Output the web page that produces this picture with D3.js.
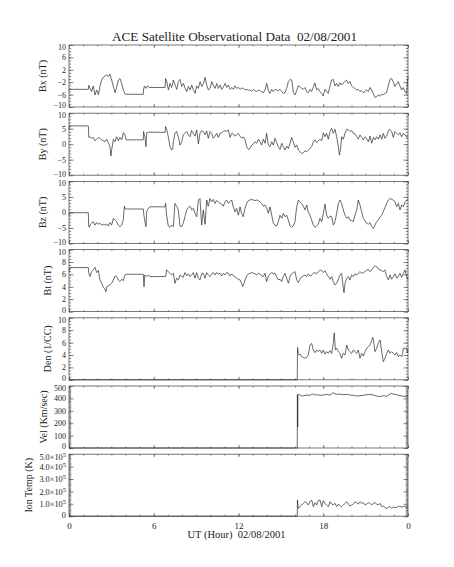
<!DOCTYPE html>
<html lang="en">
<head>
<meta charset="UTF-8">
<title>ACE Satellite Observational Data</title>
<script src="https://d3js.org/d3.v7.min.js"></script>
<style>
  body { margin: 0; background: #fff; }
  text { font-family: "Liberation Serif", "DejaVu Serif", serif; fill: #222; }
</style>
</head>
<body>
<script>
// hours of the day (UT) and their labels
const hourTicks = [0, 6, 12, 18, 24];
const hourLabels = ["0", "6", "12", "18", "0"];

// [hour, value]
const bx = [[0,-4.8],[0.05,-4.3],[1.37,-4.3],[1.40,-3.0],[1.49,-4.0],[1.60,-5.0],[1.72,-3.2],[1.84,-6.1],[1.96,-4.5],[2.08,-6.0],[2.19,-3.4],[2.31,-1.3],[2.43,-0.4],[2.55,0.0],[2.67,0.4],[2.78,-0.2],[2.90,0.6],[3.02,-1.3],[3.14,-3.4],[3.26,-5.4],[3.37,-3.7],[3.49,-1.3],[3.61,-0.8],[3.73,-2.4],[3.85,-4.5],[3.96,-5.8],[4.03,-5.9],[5.26,-5.9],[5.27,-4.5],[5.34,-3.2],[5.46,-4.0],[5.57,-3.2],[5.69,-3.7],[6.80,-3.7],[6.84,-0.8],[6.92,-1.8],[7.04,-4.5],[7.15,-2.4],[7.27,-3.7],[7.39,-1.3],[7.51,-2.9],[7.63,-4.3],[7.74,-1.8],[7.86,-1.1],[7.98,-3.4],[8.10,-2.4],[8.22,-4.0],[8.33,-5.0],[8.45,-3.4],[8.57,-4.5],[8.69,-2.9],[8.81,-4.5],[8.93,-5.6],[9.04,-3.2],[9.16,-4.0],[9.28,-1.8],[9.40,-3.4],[9.52,-2.4],[9.63,-0.4],[9.75,-2.9],[9.87,-4.5],[9.99,-4.0],[10.11,-1.8],[10.23,-3.2],[10.34,-4.0],[10.46,-2.4],[10.58,-4.0],[10.70,-2.9],[10.82,-4.3],[10.94,-3.4],[11.05,-2.4],[11.17,-3.7],[11.29,-2.9],[11.41,-4.3],[11.52,-3.7],[11.64,-4.3],[11.76,-3.2],[11.88,-4.0],[12.00,-3.7],[12.11,-4.3],[12.23,-3.9],[12.35,-4.0],[12.47,-4.5],[12.59,-4.3],[12.70,-4.6],[12.82,-4.5],[12.94,-4.9],[13.06,-4.3],[13.17,-4.8],[13.29,-5.0],[13.41,-4.6],[13.53,-4.7],[13.64,-5.2],[13.76,-5.4],[13.88,-4.5],[14.00,-2.4],[14.12,-4.7],[14.23,-5.6],[14.35,-4.3],[14.47,-5.0],[14.59,-4.3],[14.70,-4.5],[14.82,-4.8],[14.94,-4.3],[15.06,-5.0],[15.17,-5.6],[15.29,-5.4],[15.41,-4.0],[15.53,-1.8],[15.65,-1.1],[15.76,-1.3],[15.83,-3.2],[15.88,-5.4],[16.00,-6.1],[16.12,-4.7],[16.23,-3.2],[16.35,-3.4],[16.47,-4.0],[16.59,-4.3],[16.71,-3.7],[16.82,-5.0],[16.94,-5.4],[17.06,-4.3],[17.18,-5.0],[17.29,-3.7],[17.41,-2.2],[17.53,-4.5],[17.65,-4.0],[17.76,-5.0],[17.88,-5.6],[18.00,-6.5],[18.12,-4.3],[18.24,-5.0],[18.35,-5.6],[18.47,-3.4],[18.59,-1.3],[18.71,-1.1],[18.83,-3.2],[18.95,-2.4],[19.06,-3.4],[19.18,-2.2],[19.30,-2.9],[19.42,-2.2],[19.53,-1.8],[19.65,-1.3],[19.77,-2.4],[19.89,-1.8],[20.01,-3.2],[20.12,-3.7],[20.24,-4.0],[20.36,-4.5],[20.48,-4.3],[20.60,-5.0],[20.71,-4.7],[20.83,-5.4],[20.95,-5.0],[21.07,-4.5],[21.19,-5.0],[21.31,-3.7],[21.42,-4.5],[21.54,-5.6],[21.66,-6.9],[21.78,-6.7],[21.89,-6.1],[22.01,-6.5],[22.13,-5.9],[22.25,-6.1],[22.36,-5.6],[22.48,-5.4],[22.60,-3.2],[22.72,-1.1],[22.84,-0.8],[22.95,-1.8],[23.07,-3.4],[23.19,-2.6],[23.31,-1.8],[23.43,-3.2],[23.54,-4.5],[23.66,-3.7],[23.78,-5.0],[23.90,-5.6],[23.97,-1.3],[24.0,-0.2]];

const by = [[0,5.0],[0.04,5.9],[1.37,5.9],[1.40,2.2],[1.44,2.4],[1.60,1.9],[1.72,2.2],[1.84,1.1],[1.96,1.6],[2.08,2.2],[2.19,1.9],[2.31,1.4],[2.43,1.1],[2.55,0.8],[2.67,1.6],[2.78,0.5],[2.90,-0.8],[2.97,-3.8],[3.02,-1.9],[3.14,1.6],[3.26,0.8],[3.37,2.4],[3.49,1.1],[3.61,2.2],[3.73,1.4],[3.85,3.7],[3.96,3.0],[4.04,1.4],[5.26,1.4],[5.28,4.1],[5.38,2.2],[5.45,-0.8],[5.50,3.7],[5.62,3.9],[6.80,3.8],[6.84,5.7],[6.91,4.8],[7.03,2.4],[7.15,-0.8],[7.27,-1.9],[7.34,-1.4],[7.39,0.8],[7.50,3.5],[7.62,4.1],[7.74,2.4],[7.86,-0.3],[7.98,0.8],[8.09,3.0],[8.21,3.5],[8.33,4.1],[8.45,3.0],[8.57,2.4],[8.68,4.4],[8.80,3.5],[8.92,2.6],[9.04,4.6],[9.16,0.1],[9.27,3.5],[9.39,4.4],[9.51,4.1],[9.63,3.0],[9.75,4.3],[9.86,1.9],[9.98,4.1],[10.10,3.5],[10.22,1.9],[10.34,2.6],[10.45,3.5],[10.57,2.2],[10.69,3.5],[10.81,3.7],[10.93,4.1],[11.04,4.4],[11.16,4.1],[11.28,4.6],[11.40,2.2],[11.52,3.5],[11.63,3.3],[11.75,2.6],[11.87,3.0],[11.99,3.5],[12.11,2.6],[12.22,1.9],[12.34,2.4],[12.46,1.4],[12.58,-0.8],[12.70,-1.7],[12.81,-1.4],[12.93,-0.3],[13.05,0.1],[13.17,0.8],[13.29,0.3],[13.40,1.6],[13.52,0.8],[13.64,-0.3],[13.76,1.6],[13.88,0.3],[13.99,3.5],[14.11,-0.3],[14.23,-0.8],[14.35,0.8],[14.47,-0.3],[14.58,1.9],[14.70,0.5],[14.82,-0.8],[14.94,-1.7],[15.06,0.3],[15.17,-0.8],[15.29,-1.9],[15.41,-0.6],[15.53,-1.4],[15.65,0.3],[15.76,2.2],[15.88,0.8],[16.00,-1.0],[16.12,-0.3],[16.24,-1.9],[16.35,-2.4],[16.47,-3.0],[16.59,-2.8],[16.71,-2.1],[16.83,-2.4],[16.94,-1.9],[17.06,-1.4],[17.18,-0.8],[17.30,0.8],[17.42,1.4],[17.53,0.5],[17.65,1.1],[17.77,1.6],[17.89,1.1],[18.01,3.7],[18.12,2.4],[18.24,3.5],[18.36,1.6],[18.48,4.1],[18.60,5.1],[18.71,3.5],[18.83,4.8],[18.95,2.4],[19.07,-0.8],[19.14,-3.5],[19.23,-1.4],[19.30,2.4],[19.42,1.6],[19.54,3.5],[19.66,4.8],[19.78,4.6],[19.89,4.1],[20.01,4.4],[20.13,3.5],[20.25,3.3],[20.37,2.4],[20.48,1.6],[20.60,3.0],[20.72,2.2],[20.84,1.4],[20.96,2.4],[21.07,1.9],[21.19,0.8],[21.31,2.6],[21.43,0.3],[21.55,2.2],[21.66,1.4],[21.78,2.4],[21.90,1.6],[22.02,3.0],[22.14,1.6],[22.25,3.5],[22.37,1.9],[22.49,2.6],[22.61,4.4],[22.73,4.8],[22.84,4.1],[22.96,2.2],[23.08,4.1],[23.20,3.5],[23.32,3.0],[23.43,3.7],[23.55,2.4],[23.67,3.5],[23.79,3.0],[23.91,2.2],[24,2.6]];

const bz = [[0,-0.9],[0.05,-0.3],[0.07,-0.1],[1.37,-0.1],[1.39,-4.4],[1.44,-4.8],[1.53,-3.8],[1.72,-3.0],[1.84,-4.1],[1.96,-3.3],[2.08,-3.8],[2.19,-3.5],[2.31,-4.1],[2.43,-3.8],[2.55,-4.1],[2.67,-3.8],[2.78,-4.4],[2.90,-3.3],[3.02,-4.1],[3.14,-1.9],[3.26,-2.5],[3.37,-3.0],[3.49,-4.1],[3.61,-4.6],[3.73,-4.1],[3.85,-2.3],[3.92,2.0],[3.96,1.3],[4.04,1.1],[5.26,1.1],[5.30,-0.9],[5.38,-3.0],[5.45,-4.6],[5.50,0.2],[5.62,1.3],[5.73,1.8],[6.80,1.8],[6.84,2.9],[6.91,-0.9],[7.03,-4.4],[7.15,-4.8],[7.27,-4.1],[7.39,-4.6],[7.50,2.9],[7.62,2.0],[7.74,0.8],[7.86,-4.4],[7.98,-4.6],[8.09,-3.5],[8.21,-1.4],[8.33,0.8],[8.45,1.6],[8.57,2.0],[8.68,0.8],[8.80,1.3],[8.92,-0.3],[9.04,-1.4],[9.16,4.0],[9.27,4.5],[9.39,-4.1],[9.51,0.8],[9.63,-3.8],[9.75,4.0],[9.86,2.0],[9.98,4.5],[10.10,3.4],[10.22,4.2],[10.34,2.9],[10.45,3.8],[10.57,3.4],[10.69,2.9],[10.81,2.7],[10.93,2.0],[11.04,3.4],[11.16,4.0],[11.28,2.9],[11.40,3.4],[11.52,4.0],[11.63,1.8],[11.75,0.2],[11.87,1.3],[11.99,-0.9],[12.11,1.8],[12.22,-0.3],[12.34,-1.4],[12.46,1.3],[12.58,2.9],[12.70,3.8],[12.81,4.0],[12.93,4.2],[13.05,4.0],[13.17,3.8],[13.29,4.0],[13.40,3.8],[13.52,3.4],[13.64,2.9],[13.76,2.0],[13.88,2.4],[13.99,1.6],[14.11,-0.3],[14.23,1.8],[14.35,-0.9],[14.47,-3.5],[14.58,-4.1],[14.70,-4.4],[14.82,-3.0],[14.94,-0.9],[15.06,-1.9],[15.17,-0.3],[15.29,-1.4],[15.41,-0.9],[15.53,-2.5],[15.65,-4.4],[15.76,-4.8],[15.88,-4.4],[16.00,-3.0],[16.12,1.8],[16.24,4.0],[16.35,3.4],[16.47,2.9],[16.59,2.0],[16.71,0.8],[16.83,2.4],[16.94,0.2],[17.06,-0.9],[17.18,-2.5],[17.30,-4.1],[17.42,-4.8],[17.53,-4.4],[17.65,-3.8],[17.77,-1.9],[17.89,-3.0],[18.01,-0.3],[18.12,2.7],[18.24,-0.9],[18.36,-1.9],[18.48,-1.2],[18.60,-1.4],[18.71,-4.1],[18.83,-3.0],[18.95,-0.3],[19.07,2.9],[19.19,4.0],[19.30,2.9],[19.42,0.8],[19.54,-0.9],[19.66,-1.9],[19.78,-1.4],[19.89,-2.5],[20.01,-2.7],[20.13,-3.0],[20.25,-0.9],[20.37,0.8],[20.48,4.0],[20.60,2.4],[20.72,0.2],[20.84,-1.9],[20.96,-2.7],[21.07,-3.5],[21.19,-3.8],[21.31,-3.3],[21.43,-4.6],[21.55,-5.2],[21.66,-4.1],[21.78,-3.0],[21.90,-2.5],[22.02,-1.4],[22.14,-0.9],[22.25,0.2],[22.37,1.6],[22.49,2.9],[22.61,4.0],[22.73,4.5],[22.84,4.2],[22.96,4.0],[23.08,3.4],[23.20,1.8],[23.32,2.9],[23.43,0.8],[23.55,2.4],[23.67,1.8],[23.79,3.4],[23.91,4.0],[24,4.2]];

const bt = [[0,6.4],[0.05,7.0],[0.07,7.1],[1.37,7.1],[1.39,6.3],[1.49,5.65],[1.60,6.45],[1.72,6.72],[1.84,7.15],[1.96,6.29],[2.08,6.61],[2.19,5.11],[2.31,4.57],[2.43,3.92],[2.55,3.6],[2.62,3.23],[2.67,4.03],[2.78,4.14],[2.90,4.3],[3.02,4.57],[3.14,5.11],[3.26,5.75],[3.37,5.65],[3.49,5.11],[3.61,4.84],[3.73,5.22],[3.85,5.0],[3.92,5.65],[3.96,5.91],[4.04,6.02],[5.26,6.02],[5.31,4.03],[5.36,5.91],[5.50,5.65],[5.62,5.91],[5.73,5.65],[6.84,5.65],[6.91,6.72],[7.03,6.45],[7.15,6.18],[7.27,5.91],[7.39,6.18],[7.50,4.57],[7.62,5.38],[7.74,5.11],[7.86,5.91],[7.98,5.65],[8.09,5.54],[8.21,6.29],[8.33,5.75],[8.45,6.08],[8.57,5.65],[8.68,5.91],[8.80,6.29],[8.92,5.38],[9.04,6.29],[9.16,5.38],[9.27,5.11],[9.39,6.08],[9.51,6.18],[9.63,5.38],[9.75,6.29],[9.86,5.91],[9.98,5.65],[10.10,6.08],[10.22,6.29],[10.34,5.91],[10.45,6.29],[10.57,6.08],[10.69,6.18],[10.81,5.75],[10.93,6.18],[11.04,5.91],[11.16,6.29],[11.28,6.18],[11.40,5.75],[11.52,6.08],[11.63,5.75],[11.75,5.65],[11.87,5.38],[11.99,5.22],[12.11,5.11],[12.22,4.57],[12.30,4.03],[12.39,4.57],[12.46,5.11],[12.58,5.75],[12.70,6.08],[12.81,6.18],[12.93,6.29],[13.05,6.18],[13.17,6.08],[13.29,5.91],[13.40,6.18],[13.52,6.08],[13.64,5.75],[13.76,5.65],[13.88,6.18],[13.99,4.84],[14.11,5.65],[14.23,6.08],[14.35,6.29],[14.47,6.08],[14.58,6.18],[14.70,5.65],[14.82,5.11],[14.94,5.22],[15.06,4.84],[15.17,5.65],[15.29,6.18],[15.41,5.38],[15.53,4.57],[15.65,5.65],[15.76,6.08],[15.88,6.29],[16.00,6.45],[16.12,5.11],[16.24,4.68],[16.35,5.22],[16.47,5.65],[16.59,5.75],[16.71,5.91],[16.83,5.65],[16.94,6.08],[17.06,5.75],[17.18,5.91],[17.30,6.18],[17.42,6.29],[17.53,6.08],[17.65,6.45],[17.77,6.72],[17.89,6.61],[18.01,6.29],[18.12,6.61],[18.24,6.08],[18.36,5.65],[18.48,5.22],[18.60,5.65],[18.71,4.84],[18.83,4.3],[18.95,4.57],[19.07,5.22],[19.19,5.91],[19.30,6.18],[19.42,3.76],[19.47,3.06],[19.54,4.57],[19.66,5.38],[19.78,5.65],[19.89,5.11],[20.01,5.91],[20.13,5.65],[20.25,6.08],[20.37,5.91],[20.48,6.18],[20.60,6.45],[20.72,6.18],[20.84,6.29],[20.96,6.45],[21.07,6.72],[21.19,6.83],[21.31,6.45],[21.43,6.72],[21.55,7.15],[21.66,7.37],[21.78,7.26],[21.90,6.83],[22.02,6.72],[22.14,6.61],[22.25,6.45],[22.37,6.72],[22.49,5.65],[22.61,5.11],[22.73,5.91],[22.84,5.22],[22.96,5.65],[23.08,6.08],[23.20,5.38],[23.32,5.75],[23.43,6.18],[23.55,5.54],[23.67,6.18],[23.79,6.72],[23.91,5.65],[24,5.11]];

const den = [[0,0],[16.16,0],[16.18,5.2],[16.24,4.2],[16.31,4.0],[16.35,4.16],[16.47,3.73],[16.59,3.62],[16.71,3.46],[16.83,3.62],[16.94,4.0],[17.06,5.61],[17.18,5.88],[17.30,4.81],[17.42,4.38],[17.53,4.81],[17.65,4.54],[17.77,4.81],[17.89,4.27],[18.01,4.81],[18.12,4.16],[18.24,4.54],[18.36,4.27],[18.48,4.7],[18.60,4.27],[18.71,5.88],[18.78,7.6],[18.86,4.81],[18.95,5.08],[19.07,4.54],[19.19,4.27],[19.30,3.46],[19.42,4.27],[19.54,4.0],[19.66,5.61],[19.78,4.81],[19.89,4.54],[20.01,4.27],[20.13,4.81],[20.25,4.54],[20.37,4.27],[20.48,4.81],[20.60,3.46],[20.72,4.27],[20.84,3.84],[20.96,4.54],[21.07,5.08],[21.19,5.34],[21.31,5.61],[21.43,6.31],[21.50,6.85],[21.55,6.42],[21.66,4.54],[21.78,5.08],[21.90,5.88],[22.02,6.42],[22.14,4.54],[22.25,2.92],[22.37,3.46],[22.49,4.27],[22.61,4.81],[22.73,4.27],[22.84,4.54],[22.96,4.27],[23.08,4.0],[23.20,4.38],[23.32,3.73],[23.43,4.0],[23.55,3.73],[23.62,4.27],[23.67,5.08],[23.91,5.08],[23.95,4.38],[24,4.8]];

const vel = [[0,0],[16.16,0],[16.17,430],[16.19,170],[16.21,430],[16.24,435],[16.35,427],[16.47,419],[16.59,422],[16.83,427],[17.06,425],[17.18,433],[17.30,435],[17.42,427],[17.53,430],[17.77,425],[18.01,427],[18.24,433],[18.48,427],[18.71,446],[18.83,435],[18.95,433],[19.19,435],[19.42,430],[19.66,433],[19.89,427],[20.13,425],[20.37,419],[20.60,422],[20.84,425],[21.07,430],[21.31,433],[21.55,427],[21.78,419],[22.02,414],[22.25,422],[22.49,417],[22.73,435],[22.84,441],[22.96,435],[23.20,430],[23.43,422],[23.67,417],[23.91,419],[24,427]];

const temp = [[0,0],[16.16,0],[16.17,131000],[16.24,63000],[16.35,77000],[16.47,90000],[16.59,104000],[16.71,117000],[16.83,109000],[16.94,90000],[17.06,117000],[17.18,131000],[17.30,77000],[17.42,109000],[17.53,90000],[17.65,125000],[17.77,131000],[17.89,77000],[18.01,125000],[18.12,104000],[18.24,90000],[18.36,77000],[18.48,117000],[18.60,98000],[18.71,90000],[18.83,104000],[18.95,77000],[19.07,98000],[19.19,82000],[19.30,77000],[19.42,90000],[19.54,104000],[19.66,117000],[19.78,98000],[19.89,82000],[20.01,90000],[20.13,98000],[20.25,117000],[20.37,109000],[20.48,98000],[20.60,117000],[20.72,104000],[20.84,109000],[20.96,90000],[21.07,98000],[21.19,109000],[21.31,104000],[21.43,90000],[21.55,104000],[21.66,109000],[21.78,98000],[21.90,90000],[22.02,104000],[22.14,77000],[22.25,82000],[22.37,69000],[22.49,63000],[22.61,72000],[22.73,77000],[22.84,63000],[22.96,77000],[23.08,69000],[23.20,72000],[23.32,77000],[23.43,82000],[23.55,72000],[23.67,77000],[23.79,82000],[23.91,63000],[24,77000]];

const panelNames = ["Bx (nT)", "By (nT)", "Bz (nT)", "Bt (nT)", "Den (1/CC)", "Vel (Km/sec)", "Ion Temp (K)"];
const panelRanges = [[-10, 10], [-10, 10], [-10, 10], [0, 10], [0, 10], [0, 500], [0, 500000]];
const panelMajor = [4, 5, 5, 2, 2, 100, 100000];
const panelMinor = [1, 1, 1, 0.5, 0.5, 10, 10000];
const panelData = [bx, by, bz, bt, den, vel, temp];

const w = 454, h = 567;
const left = 69, right = 408;
const top0 = 45, panelH = 62, gap = 68.2;
const frameColor = "#555";

const svg = d3.select("body").append("svg")
  .attr("width", w)
  .attr("height", h);

const x = d3.scaleLinear().domain([0, 24]).range([left, right]);

svg.append("text")
  .attr("x", (left + right) / 2 - 4)
  .attr("y", 41)
  .attr("text-anchor", "middle")
  .style("font-size", "13.2px")
  .style("white-space", "pre")
  .text("ACE Satellite Observational Data  02/08/2001");

function tempLabel(g, d) {
  const t = d3.select(g);
  t.text(null);
  if (d === 0) { t.text("0"); return; }
  t.append("tspan").text((d / 1e5).toFixed(1) + "\u00d710");
  t.append("tspan").attr("dy", "-0.45em").style("font-size", "6.5px").text("5");
}

panelNames.forEach((name, i) => {
  const y0 = top0 + i * gap;
  const dom = panelRanges[i];
  const y = d3.scaleLinear().domain(dom).range([y0 + panelH, y0]);
  const g = svg.append("g");

  const majors = d3.range(dom[0], dom[1] + panelMajor[i] / 2, panelMajor[i]);
  const minors = d3.range(dom[0], dom[1] + panelMinor[i] / 2, panelMinor[i]);
  const hours = d3.range(0, 25, 1);

  // minor ticks, all four sides
  g.append("g").attr("transform", `translate(${left},0)`)
    .call(d3.axisLeft(y).tickValues(minors).tickSizeInner(-2.2).tickSizeOuter(0).tickFormat(""));
  g.append("g").attr("transform", `translate(${right},0)`)
    .call(d3.axisLeft(y).tickValues(minors).tickSizeInner(2.2).tickSizeOuter(0).tickFormat(""));
  g.append("g").attr("transform", `translate(0,${y0 + panelH})`)
    .call(d3.axisBottom(x).tickValues(hours).tickSizeInner(-1.5).tickSizeOuter(0).tickFormat(""));
  g.append("g").attr("transform", `translate(0,${y0})`)
    .call(d3.axisTop(x).tickValues(hours).tickSizeInner(-1.5).tickSizeOuter(0).tickFormat(""));

  // major ticks with labels
  const yl = g.append("g").attr("class", "ylab").attr("transform", `translate(${left},0)`)
    .call(d3.axisLeft(y).tickValues(majors).tickSizeInner(-4.5).tickSizeOuter(0).tickPadding(3));
  g.append("g").attr("transform", `translate(${right},0)`)
    .call(d3.axisLeft(y).tickValues(majors).tickSizeInner(4.5).tickSizeOuter(0).tickFormat(""));
  g.append("g").attr("transform", `translate(0,${y0 + panelH})`)
    .call(d3.axisBottom(x).tickValues(hourTicks).tickSizeInner(-3).tickSizeOuter(0).tickFormat(""));
  g.append("g").attr("transform", `translate(0,${y0})`)
    .call(d3.axisTop(x).tickValues(hourTicks).tickSizeInner(-3).tickSizeOuter(0).tickFormat(""));

  if (i === 6) {
    yl.selectAll(".tick text").each(function(d) { tempLabel(this, d); });
  } else {
    yl.selectAll(".tick text").text(d => d3.format("d")(d).replace("-", "\u2212"));
  }
  const topDy = i === 6 ? "0.62em" : "0.55em";
  yl.selectAll(".tick text")
    .style("font-family", '"Liberation Serif", serif')
    .style("font-size", i === 6 ? "8.3px" : "8px")
    .attr("fill", "#222")
    // keep the end labels inside their own panel
    .attr("dy", d => d === dom[1] ? topDy : d === dom[0] ? "0.1em" : "0.32em");

  g.selectAll(".domain").remove();
  g.selectAll(".tick line").attr("stroke", frameColor).attr("stroke-width", 0.7);

  // frame
  g.append("rect")
    .attr("x", left).attr("y", y0)
    .attr("width", right - left).attr("height", panelH)
    .attr("fill", "none")
    .attr("stroke", frameColor)
    .attr("stroke-width", 0.8);

  // data
  const line = d3.line().x(d => x(d[0])).y(d => y(d[1]));
  g.append("path")
    .datum(panelData[i])
    .attr("d", line)
    .attr("fill", "none")
    .attr("stroke", "#2a2a2a")
    .attr("stroke-width", 0.7)
    .attr("stroke-linejoin", "round");

  // rotated axis name
  const bb = yl.node().getBBox();
  svg.append("text")
    .attr("transform", `translate(${left + bb.x - 7},${y0 + panelH / 2}) rotate(-90)`)
    .attr("text-anchor", "middle")
    .style("font-size", "10px")
    .text(name);

  if (i === 6) {
    const xa = svg.append("g").attr("transform", `translate(0,${y0 + panelH})`)
      .call(d3.axisBottom(x).tickValues(hourTicks).tickSize(0).tickPadding(6)
        .tickFormat((d, k) => hourLabels[k]));
    xa.select(".domain").remove();
    xa.selectAll("text")
      .style("font-family", '"Liberation Serif", serif')
      .style("font-size", "9px")
      .attr("fill", "#222");
    svg.append("text")
      .attr("x", (left + right) / 2 - 2)
      .attr("y", y0 + panelH + 22)
      .attr("text-anchor", "middle")
      .style("font-size", "10.5px")
      .style("white-space", "pre")
      .text("UT (Hour)  02/08/2001");
  }
});
</script>
</body>
</html>
